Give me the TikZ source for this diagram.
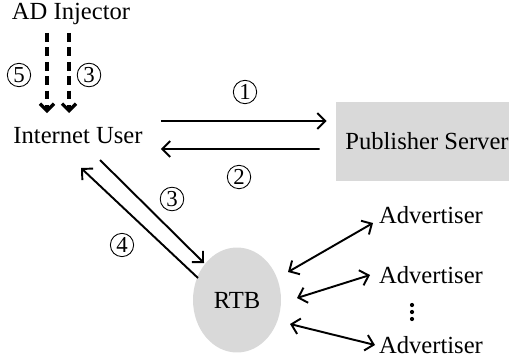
\documentclass[tikz,border=0pt]{standalone}
\usepackage{fontspec}
\setmainfont{Liberation Serif}
\usetikzlibrary{shapes.geometric,arrows.meta,calc}

\definecolor{boxgray}{HTML}{D9D9D9}

\begin{document}
\begin{tikzpicture}[x=0.02cm,y=-0.02cm,
    every node/.style={font=\fontsize{14}{16}\selectfont,inner sep=0pt},
    num/.style={circle,draw,line width=0.5pt,inner sep=0.9pt,font=\fontsize{13}{15}\selectfont},
    flow/.style={line width=1.1pt,>={Straight Barb[length=4.5pt,width=9pt]}},
    inject/.style={line width=1.9pt,dash pattern=on 5pt off 3.2pt,>={Straight Barb[length=4pt,width=8pt]}}]
    \useasboundingbox (0,0) rectangle (509,358);
    \node at (71,14) (inj) {AD Injector};
    \node at (78,136) (user) {Internet User};
    \node[fill=boxgray,minimum width=3.64cm,minimum height=1.58cm] at (427,141.5) (pub) {Publisher Server};
    \node[ellipse,fill=boxgray,minimum width=1.76cm,minimum height=2.1cm] at (237,300) (rtb) {RTB};
    \node at (431,215) (adv1) {Advertiser};
    \node at (431,275) (adv2) {Advertiser};
    \node at (431,345) (adv3) {Advertiser};
    \coordinate (advdots) at (412,312);
    \foreach \d in {-7,0,7}
        \fill ($(advdots)+(0,\d)$) circle (1.2pt);
    \node[num] at (245,92) (n1) {1};
    \node[num] at (239,177) (n2) {2};
    \node[num] at (172,199) (n3) {3};
    \node[num] at (122,245) (n4) {4};
    \node[num] at (19,75) (n5) {5};
    \node[num] at (89,75) (n3b) {3};
    \path[->, flow]
    ($(user.east)+(18,-15)$) edge ($(pub.west)+(-9,-20.5)$)
    ($(pub.west)+(-16,7.5)$) edge ($(user.east)+(18,13)$)
    ($(user)+(22,24)$) edge ($(rtb)+(-33,-37)$)
    ($(rtb)+(-39,-22)$) edge ($(user)+(3,32)$)
    ;
    \path[<->, flow]
    ($(rtb)+(51,-28)$) edge ($(adv1)+(-58,8)$)
    ($(rtb)+(60,-2)$) edge ($(adv2)+(-61,0)$)
    ($(rtb)+(53,24)$) edge ($(adv3)+(-56,0)$)
    ;
    \path[->, inject]
    ($(inj)+(-24,19)$) edge ($(user)+(-31,-23)$)
    ($(inj)+(-2,19)$) edge ($(user)+(-9,-23)$)
    ;
\end{tikzpicture}
\end{document}
